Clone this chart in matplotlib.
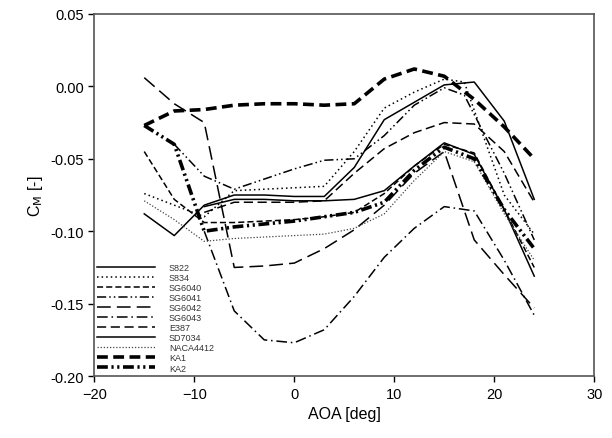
import matplotlib
matplotlib.use("Agg")
import matplotlib.pyplot as plt

plt.rcParams['font.family'] = ['Liberation Sans', 'DejaVu Sans']

# ---- data ----
s822_x = [-15, -12, -9, -6, -3, 0, 3, 6, 9, 12, 15, 18, 21, 24]
s822_y = [-0.088, -0.103, -0.082, -0.075, -0.075, -0.076, -0.076, -0.056, -0.023, -0.011, 0.001, 0.003, -0.024, -0.078]

s834_x = [-15, -12, -9, -6, -3, 0, 3, 6, 9, 12, 15, 17, 21, 24]
s834_y = [-0.074, -0.082, -0.090, -0.072, -0.071, -0.070, -0.069, -0.045, -0.015, -0.004, 0.005, 0.003, -0.075, -0.102]

sg6040_x = [-15, -12, -9, -6, -3, 0, 3, 6, 9, 12, 15, 18, 21, 24]
sg6040_y = [-0.045, -0.078, -0.094, -0.094, -0.093, -0.092, -0.090, -0.087, -0.074, -0.055, -0.040, -0.046, -0.085, -0.125]

sg6041_x = [-12, -9, -6, -3, 0, 3, 6, 9, 12, 15, 17, 21, 24]
sg6041_y = [-0.040, -0.062, -0.071, -0.064, -0.057, -0.051, -0.050, -0.034, -0.013, -0.001, -0.006, -0.060, -0.106]

sg6042_x = [-15, -12, -9, -6, -3, 0, 3, 6, 9, 12, 15, 18, 21, 24]
sg6042_y = [0.006, -0.012, -0.025, -0.125, -0.124, -0.122, -0.112, -0.099, -0.082, -0.060, -0.045, -0.106, -0.130, -0.153]

sg6043_x = [-9, -6, -3, 0, 3, 6, 9, 12, 15, 18, 21, 24]
sg6043_y = [-0.100, -0.155, -0.175, -0.177, -0.168, -0.145, -0.118, -0.098, -0.083, -0.086, -0.120, -0.158]

e387_x = [-9, -6, -3, 0, 3, 6, 9, 12, 15, 18, 21, 24]
e387_y = [-0.087, -0.080, -0.080, -0.080, -0.079, -0.060, -0.043, -0.032, -0.025, -0.026, -0.045, -0.080]

sd7034_x = [-9, -6, -3, 0, 3, 6, 9, 12, 15, 18, 21, 24]
sd7034_y = [-0.083, -0.078, -0.078, -0.079, -0.079, -0.078, -0.072, -0.055, -0.039, -0.047, -0.085, -0.131]

naca_x = [-15, -12, -9, -6, -3, 0, 3, 6, 9, 12, 15, 18, 21, 24]
naca_y = [-0.079, -0.092, -0.107, -0.105, -0.104, -0.103, -0.102, -0.098, -0.088, -0.065, -0.045, -0.052, -0.088, -0.120]

ka1_x = [-15, -12, -9, -6, -3, 0, 3, 6, 9, 12, 15, 18, 21, 24]
ka1_y = [-0.027, -0.017, -0.016, -0.013, -0.012, -0.012, -0.013, -0.012, 0.005, 0.012, 0.007, -0.009, -0.028, -0.050]

ka2_x = [-15, -12, -10, -9, -6, -3, 0, 3, 6, 9, 12, 15, 18, 21, 24]
ka2_y = [-0.027, -0.040, -0.080, -0.100, -0.097, -0.095, -0.093, -0.090, -0.087, -0.080, -0.058, -0.042, -0.050, -0.085, -0.112]

series = [
    ("S822", s822_x, s822_y, dict(color='black', lw=1.1, ls='-')),
    ("S834", s834_x, s834_y, dict(color='black', lw=1.1, ls=(0, (1, 2)))),
    ("SG6040", sg6040_x, sg6040_y, dict(color='black', lw=1.1, ls=(0, (4, 2)))),
    ("SG6041", sg6041_x, sg6041_y, dict(color='black', lw=1.1, ls=(0, (6, 2, 1, 2, 1, 2)))),
    ("SG6042", sg6042_x, sg6042_y, dict(color='black', lw=1.1, ls=(0, (9, 4)))),
    ("SG6043", sg6043_x, sg6043_y, dict(color='black', lw=1.1, ls=(0, (7, 2.5, 1, 2.5)))),
    ("E387", e387_x, e387_y, dict(color='black', lw=1.1, ls=(0, (6, 3)))),
    ("SD7034", sd7034_x, sd7034_y, dict(color='black', lw=1.1, ls='-')),
    ("NACA4412", naca_x, naca_y, dict(color='#444444', lw=0.9, ls=(0, (1, 1.5)))),
    ("KA1", ka1_x, ka1_y, dict(color='black', lw=2.6, ls=(0, (3, 1.5)))),
    ("KA2", ka2_x, ka2_y, dict(color='black', lw=2.6, ls=(0, (3, 1, 0.6, 1, 0.6, 1)))),
]

fig = plt.figure(figsize=(6.12, 4.39), dpi=100)
ax = fig.add_axes([0.154, 0.141, 0.817, 0.825])

for name, x, y, st in series:
    ax.plot(x, y, label=name, **st)

ax.set_xlim(-20, 30)
ax.set_ylim(-0.20, 0.05)
ax.set_xticks([-20, -10, 0, 10, 20, 30])
ax.set_yticks([-0.20, -0.15, -0.10, -0.05, 0.00, 0.05])
ax.set_yticklabels(['-0.20', '-0.15', '-0.10', '-0.05', '0.00', '0.05'])
ax.tick_params(direction='out', length=4, width=1, labelsize=10.5, colors='black')
for sp in ax.spines.values():
    sp.set_color('#555555')
    sp.set_linewidth(1.2)

ax.set_xlabel('AOA [deg]', fontsize=11.5)
ax.set_ylabel(r'C$_\mathrm{M}$ [-]', fontsize=11.5)

leg = ax.legend(loc='upper left', bbox_to_anchor=(0.006, 0.313), frameon=False,
                fontsize=6.5, handlelength=6.4, handletextpad=1.55, labelspacing=0.12,
                borderpad=0, borderaxespad=0)
for t in leg.get_texts():
    t.set_color('#333333')

fig.savefig('out.png', dpi=100)
